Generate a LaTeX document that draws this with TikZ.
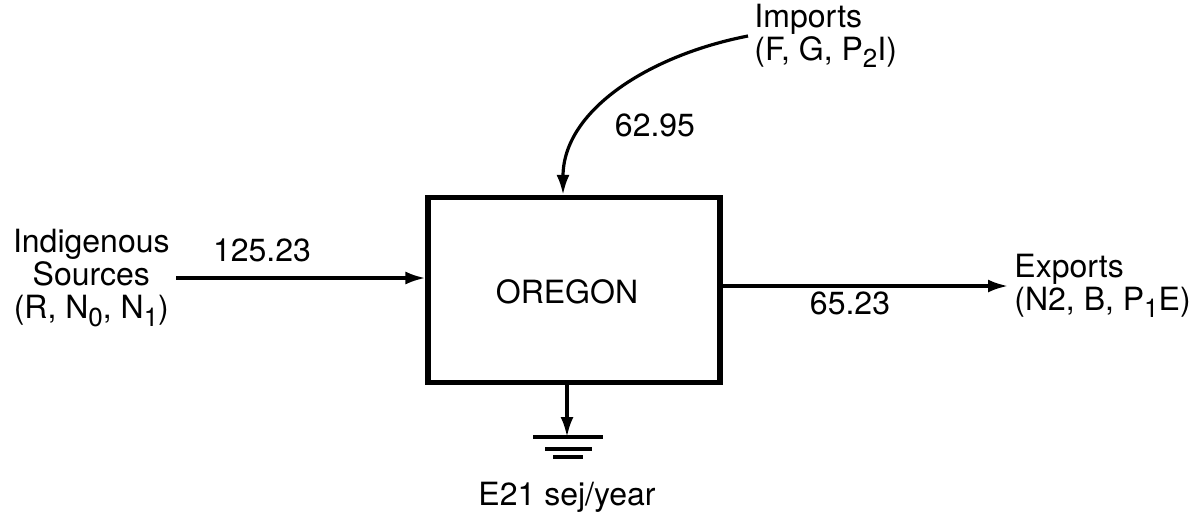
\documentclass[tikz,border=0pt]{standalone}
\usepackage{fontspec}
\setmainfont{TeX Gyre Heros}
\usetikzlibrary{arrows.meta, positioning}

\newcommand\lowidx[1]{\raisebox{-0.45ex}{\fontsize{13}{13}\selectfont #1}}

\tikzset{
  flow/.style={line width=1.6pt, -{Latex[length=10pt,width=6.5pt]}},
  lbl/.style={font=\fontsize{16}{16.5}\selectfont, inner sep=3pt}
}

\begin{document}
\begin{tikzpicture}[x=0.5pt, y=-0.5pt]
    \useasboundingbox (0,0) rectangle (1204,526);
        \node[draw, line width=2.6pt, minimum width=146pt, minimum height=92.5pt] (oregon) at (574,290) {};
        \node[lbl] (name) at (567,292) {OREGON};

        % sources and sinks
        \node[lbl, align=center, anchor=east] (indig) at (176,278)
              {Indigenous\\ Sources\\ (R, N\lowidx{0}, N\lowidx{1})};
        \node[lbl, align=left, anchor=west] (imports) at (748,36)
              {Imports\\ (F, G, P\lowidx{2}I)};
        \node[lbl, align=left, anchor=west] (exports) at (1008,286)
              {Exports\\ (N2, B, P\lowidx{1}E)};
        \coordinate (gnd) at (567,437);

        % flows
        \draw[flow] (indig.east) -- (oregon.west |- indig.east);
        \draw[flow] (imports.west) .. controls (650,55) and (563,110) .. (oregon.north -| 563,0);
        \draw[flow] (oregon.east |- exports.west) -- (exports.west);
        \draw[flow] (oregon.south -| gnd) -- (gnd);
        \draw[line width=1.6pt] ([xshift=-17pt]gnd) -- ([xshift=18pt]gnd)
              ([xshift=-11pt,yshift=-6pt]gnd) -- ([xshift=12.5pt,yshift=-6pt]gnd)
              ([xshift=-7pt,yshift=-10pt]gnd) -- ([xshift=8pt,yshift=-10pt]gnd);

        % values
        \node[lbl] (vin) at (262,250) {125.23};
        \node[lbl] (vimp) at (655,125) {62.95};
        \node[lbl] (vexp) at (850,303) {65.23};
        \node[lbl] (vunit) at (567,497) {E21 sej/year};
    \end{tikzpicture}
\end{document}
